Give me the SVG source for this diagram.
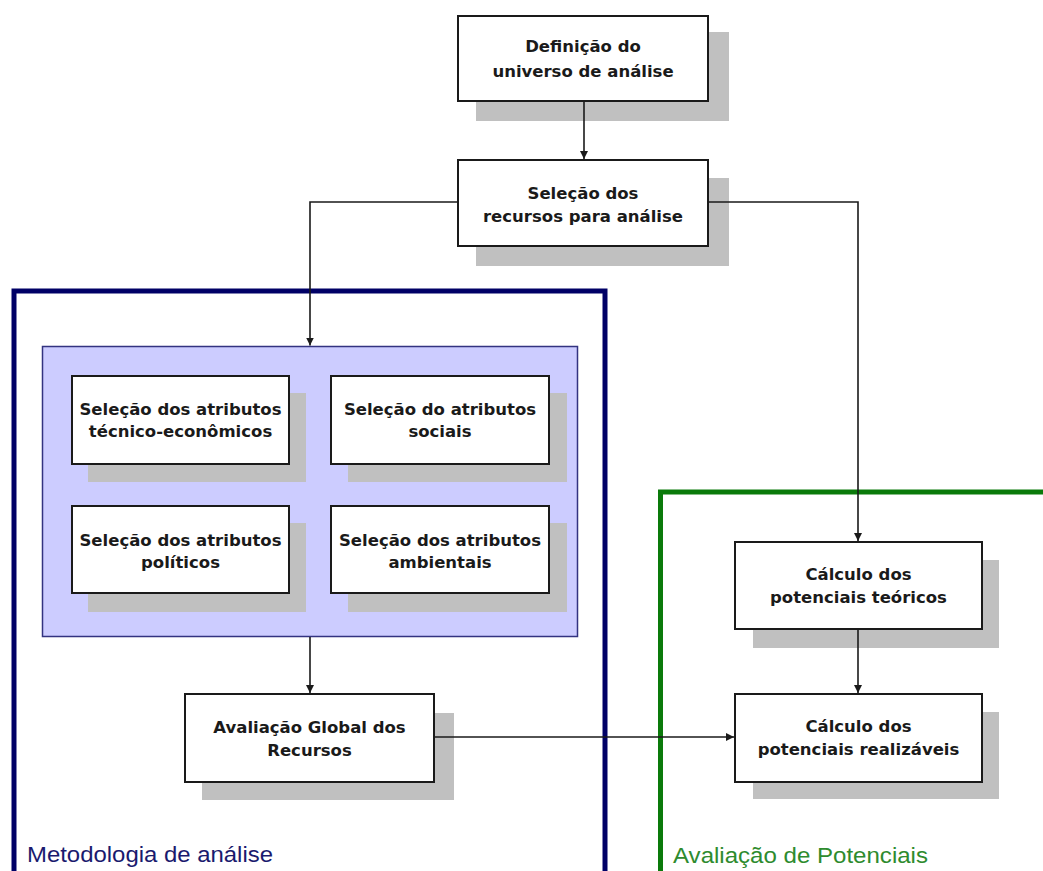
<svg xmlns="http://www.w3.org/2000/svg" width="1043" height="871" viewBox="0 0 1043 871">
<defs>
<style>
.shadow{fill:#c0c0c0;stroke:none}
.box{fill:#ffffff;stroke:#1a1a1a;stroke-width:2}
.t{font-family:"DejaVu Sans","Liberation Sans",sans-serif;font-weight:bold;font-size:16.5px;fill:#1a1a1a;text-anchor:middle}
.conn{fill:none;stroke:#1a1a1a;stroke-width:1.6}
.lbl{font-family:"Liberation Sans",Arial,sans-serif;font-size:21.5px}
</style>
<marker id="arr" viewBox="0 0 10 10" refX="10" refY="5" markerWidth="8" markerHeight="8" markerUnits="userSpaceOnUse" orient="auto">
<path d="M0,0 L10,5 L0,10 z" fill="#1a1a1a"/>
</marker>
</defs>
<rect x="0" y="0" width="1043" height="871" fill="#ffffff"/>

<g id="grupo-metodologia">
<rect x="14" y="291" width="591" height="600" fill="none" stroke="#000066" stroke-width="5"/>
<text class="lbl" x="27" y="862" fill="#1a1a6e" textLength="246" lengthAdjust="spacingAndGlyphs">Metodologia de análise</text>
</g>

<g id="grupo-potenciais">
<rect x="660.5" y="492" width="400" height="400" fill="none" stroke="#0a7a0a" stroke-width="5"/>
<text class="lbl" x="673" y="863" fill="#2e8b2e" textLength="255" lengthAdjust="spacingAndGlyphs">Avaliação de Potenciais</text>
</g>

<g id="grupo-atributos">
<rect x="42.5" y="346.5" width="535" height="290" fill="#ccccff" stroke="#333380" stroke-width="1.5"/>
</g>

<g id="definicao">
<rect class="shadow" x="476" y="32" width="253" height="89"/>
<rect class="box" x="458" y="16" width="250" height="85"/>
<text class="t" x="583" y="52">Definição do</text>
<text class="t" x="583" y="77">universo de análise</text>
</g>

<g id="selecao-recursos">
<rect class="shadow" x="476" y="178" width="253" height="88"/>
<rect class="box" x="458" y="160" width="250" height="86"/>
<text class="t" x="583" y="198.5">Seleção dos</text>
<text class="t" x="583" y="222">recursos para análise</text>
</g>

<g id="atributos-tecnico">
<rect class="shadow" x="88" y="393" width="218" height="89"/>
<rect class="box" x="72" y="376" width="217" height="88"/>
<text class="t" x="180.5" y="414.5">Seleção dos atributos</text>
<text class="t" x="180.5" y="437">técnico-econômicos</text>
</g>

<g id="atributos-sociais">
<rect class="shadow" x="348" y="393" width="219" height="89"/>
<rect class="box" x="331" y="376" width="218" height="88"/>
<text class="t" x="440" y="414.5">Seleção do atributos</text>
<text class="t" x="440" y="437">sociais</text>
</g>

<g id="atributos-politicos">
<rect class="shadow" x="88" y="523" width="218" height="89"/>
<rect class="box" x="72" y="506" width="217" height="87"/>
<text class="t" x="180.5" y="546">Seleção dos atributos</text>
<text class="t" x="180.5" y="568">políticos</text>
</g>

<g id="atributos-ambientais">
<rect class="shadow" x="348" y="523" width="219" height="89"/>
<rect class="box" x="331" y="506" width="218" height="87"/>
<text class="t" x="440" y="546">Seleção dos atributos</text>
<text class="t" x="440" y="568">ambientais</text>
</g>

<g id="avaliacao-global">
<rect class="shadow" x="202" y="713" width="252" height="87"/>
<rect class="box" x="185" y="694" width="249" height="88"/>
<text class="t" x="309.5" y="733">Avaliação Global dos</text>
<text class="t" x="309.5" y="756">Recursos</text>
</g>

<g id="potenciais-teoricos">
<rect class="shadow" x="753" y="560" width="246" height="88"/>
<rect class="box" x="735" y="542" width="247" height="87"/>
<text class="t" x="858.5" y="580">Cálculo dos</text>
<text class="t" x="858.5" y="603">potenciais teóricos</text>
</g>

<g id="potenciais-realizaveis">
<rect class="shadow" x="753" y="712" width="246" height="87"/>
<rect class="box" x="735" y="694" width="247" height="88"/>
<text class="t" x="858.5" y="732">Cálculo dos</text>
<text class="t" x="858.5" y="755">potenciais realizáveis</text>
</g>

<g id="conectores">
<path class="conn" d="M584,101 L584,159" marker-end="url(#arr)"/>
<path class="conn" d="M458,202 L310,202 L310,345.5" marker-end="url(#arr)"/>
<path class="conn" d="M708,202 L858,202 L858,541" marker-end="url(#arr)"/>
<path class="conn" d="M310,637 L310,693" marker-end="url(#arr)"/>
<path class="conn" d="M858,629 L858,693" marker-end="url(#arr)"/>
<path class="conn" d="M434,737 L734,737" marker-end="url(#arr)"/>
</g>
</svg>
